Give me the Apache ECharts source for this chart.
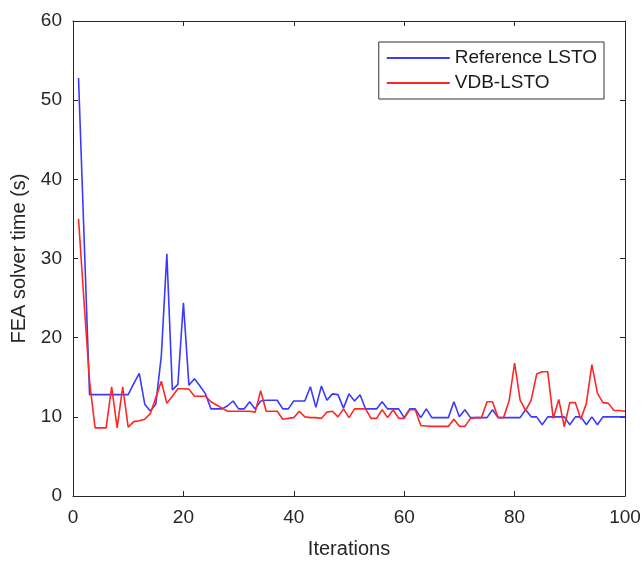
<!DOCTYPE html>
<html>
<head>
<meta charset="utf-8">
<script src="https://cdn.jsdelivr.net/npm/echarts@6/dist/echarts.min.js"></script>
<style>
  html, body { margin: 0; padding: 0; background: #fff; }
  #chart { width: 644px; height: 564px; }
</style>
</head>
<body>
<div id="chart"></div>
<script>
// iterations 1..100
const iterations = Array.from({ length: 100 }, (_, i) => i + 1)

const referenceLSTO = [
  52.8, 32.8, 12.8, 12.8, 12.8, 12.8, 12.8, 12.8, 12.8, 12.8,
  14.2, 15.5, 11.6, 10.75, 11.6, 17.7, 30.6, 13.4, 14.1, 24.4,
  14.0, 14.8, 13.9, 12.9, 11.0, 11.0, 11.0, 11.4, 12.0, 11.0,
  11.0, 11.9, 11.0, 12.0, 12.1, 12.1, 12.1, 11.0, 11.0, 12.0,
  12.0, 12.0, 13.8, 11.2, 13.9, 12.1, 12.9, 12.8, 11.1, 12.9,
  12.0, 12.8, 11.0, 11.0, 11.0, 11.9, 11.0, 11.0, 11.0, 9.9,
  11.0, 11.0, 9.9, 11.0, 9.9, 9.9, 9.9, 9.9, 11.9, 10.0,
  10.9, 9.9, 9.9, 9.9, 9.9, 10.9, 9.9, 9.9, 9.9, 9.9,
  9.9, 10.9, 10.0, 10.0, 9.0, 10.0, 10.0, 10.0, 10.0, 9.0,
  10.0, 10.0, 9.0, 10.0, 9.0, 10.0, 10.0, 10.0, 10.0, 10.0
]

const vdbLSTO = [
  35.0, 24.5, 14.5, 8.6, 8.6, 8.6, 13.8, 8.6, 13.8, 8.7,
  9.4, 9.5, 9.7, 10.4, 12.4, 14.5, 11.7, 12.6, 13.55, 13.55,
  13.5, 12.6, 12.6, 12.6, 11.9, 11.5, 11.1, 10.7, 10.7, 10.7,
  10.7, 10.7, 10.6, 13.3, 10.7, 10.7, 10.7, 9.7, 9.8, 9.9,
  10.7, 10.0, 9.9, 9.9, 9.8, 10.6, 10.7, 10.0, 11.0, 9.9,
  11.0, 11.0, 11.0, 9.8, 9.8, 10.9, 9.9, 10.9, 9.8, 9.8,
  10.9, 10.9, 8.9, 8.85, 8.8, 8.8, 8.8, 8.8, 9.7, 8.8,
  8.8, 9.8, 9.9, 9.9, 11.9, 11.9, 9.9, 9.9, 12.0, 16.8,
  12.1, 10.8, 12.1, 15.4, 15.7, 15.7, 9.8, 12.2, 8.75, 11.8,
  11.8, 9.7, 11.7, 16.6, 13.0, 11.8, 11.7, 10.8, 10.8, 10.7
]

const seriesNames = ['Reference LSTO', 'VDB-LSTO']
const xTicks = [0, 20, 40, 60, 80, 100]
const yTicks = [0, 10, 20, 30, 40, 50, 60]

const axisColor = '#262626'
const font = 'Liberation Sans, Arial, sans-serif'

const chart = echarts.init(document.getElementById('chart'))

const pairs = vals => iterations.map((it, i) => [it, vals[i]])

const baseX = {
  type: 'value',
  min: xTicks[0],
  max: xTicks[xTicks.length - 1],
  interval: 20,
  axisLine: { show: true, onZero: false, lineStyle: { color: axisColor, width: 1 } },
  axisTick: { show: true, inside: true, length: 5, lineStyle: { color: axisColor } },
  splitLine: { show: false }
}
const baseY = {
  type: 'value',
  min: yTicks[0],
  max: yTicks[yTicks.length - 1],
  interval: 10,
  axisLine: { show: true, onZero: false, lineStyle: { color: axisColor, width: 1 } },
  axisTick: { show: true, inside: true, length: 5, lineStyle: { color: axisColor } },
  splitLine: { show: false }
}

const option = {
  backgroundColor: '#fff',
  animation: false,
  grid: { left: 73, right: 19, top: 21, bottom: 66, containLabel: false },
  legend: {
    data: seriesNames,
    orient: 'vertical',
    right: 40,
    top: 42,
    itemWidth: 63,
    itemHeight: 2,
    itemGap: 5,
    padding: [6, 7, 6, 7],
    borderColor: '#333',
    borderWidth: 1,
    backgroundColor: '#fff',
    textStyle: { fontFamily: font, fontSize: 19, lineHeight: 20, color: '#1a1a1a' }
  },
  xAxis: [
    Object.assign({}, baseX, {
      position: 'bottom',
      name: 'Iterations',
      nameLocation: 'middle',
      nameGap: 43,
      nameTextStyle: { fontFamily: font, fontSize: 20, color: axisColor },
      axisLabel: { fontFamily: font, fontSize: 19, color: axisColor, margin: 12 }
    }),
    Object.assign({}, baseX, { position: 'top', axisLabel: { show: false } })
  ],
  yAxis: [
    Object.assign({}, baseY, {
      position: 'left',
      name: 'FEA solver time (s)',
      nameLocation: 'middle',
      nameGap: 38,
      nameTextStyle: { fontFamily: font, fontSize: 20, color: axisColor },
      axisLabel: { fontFamily: font, fontSize: 19, color: axisColor, margin: 11 }
    }),
    Object.assign({}, baseY, { position: 'right', axisLabel: { show: false } })
  ],
  series: [
    {
      name: seriesNames[0],
      type: 'line',
      data: pairs(referenceLSTO),
      showSymbol: false,
      symbol: 'none',
      lineStyle: { color: '#3a3aff', width: 1.6 },
      itemStyle: { color: '#3a3aff' }
    },
    {
      name: seriesNames[1],
      type: 'line',
      data: pairs(vdbLSTO),
      showSymbol: false,
      symbol: 'none',
      lineStyle: { color: '#ff2626', width: 1.6 },
      itemStyle: { color: '#ff2626' }
    }
  ]
}

chart.setOption(option)
</script>
</body>
</html>
